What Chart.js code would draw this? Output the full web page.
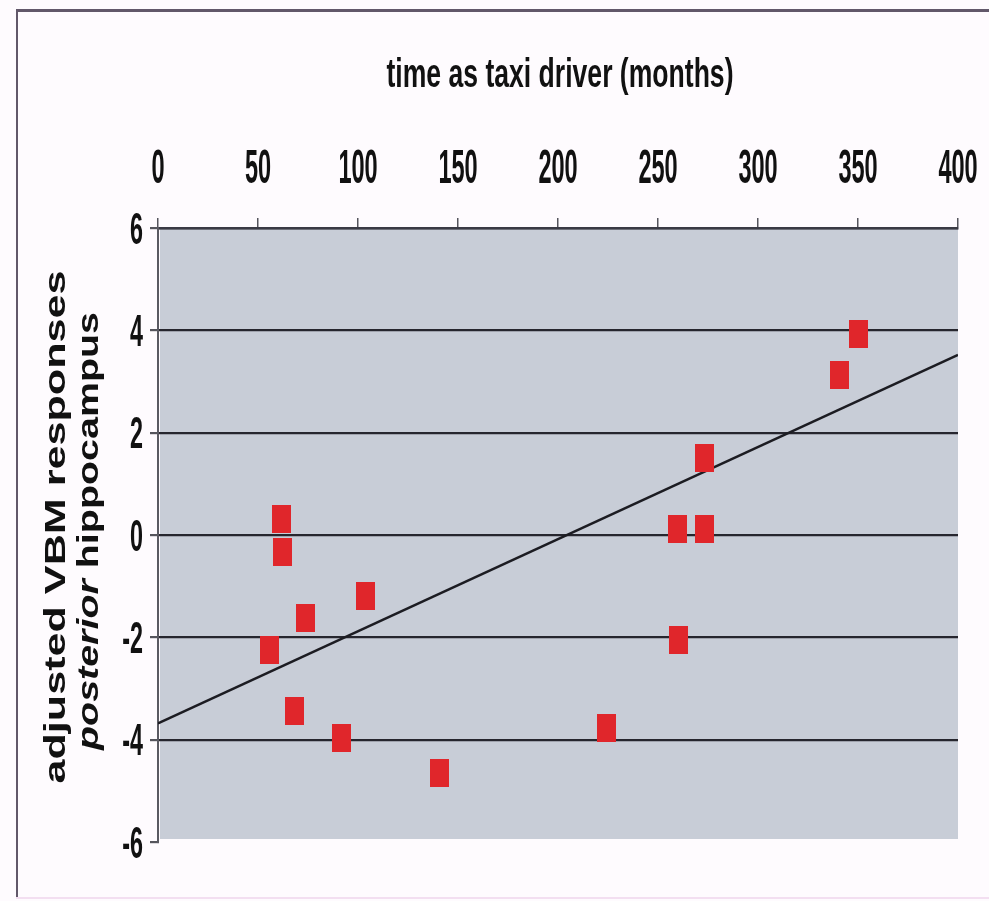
<!DOCTYPE html>
<html>
<head>
<meta charset="utf-8">
<script src="https://cdn.jsdelivr.net/npm/chart.js@4.4.1/dist/chart.umd.min.js"></script>
<style>
  html, body { margin: 0; padding: 0; background: #fefbfe; }
  #wrap { width: 989px; height: 901px; position: relative; }
</style>
</head>
<body>
<div id="wrap"><canvas id="c"></canvas></div>
<script>
// ---- data ----
const months = [55.5, 61.5, 62, 73.5, 68, 91.5, 103.5, 140.5, 224, 259.5, 273, 273, 260, 340.5, 350];
const vbm    = [-2.25, 0.32, -0.34, -1.63, -3.43, -3.97, -1.2, -4.65, -3.78, 0.11, 0.11, 1.5, -2.05, 3.12, 3.92];
const fitX = [0, 400];
const fitY = [-3.68, 3.52];
const xTicks = [0, 50, 100, 150, 200, 250, 300, 350, 400];
const yTicks = [6, 4, 2, 0, -2, -4, -6];
const xTitle = 'time as taxi driver (months)';
const yTitle1 = 'adjusted VBM responses';
const yTitle2a = 'posterior';
const yTitle2b = ' hippocampus';

// red rectangular marker
const marker = document.createElement('canvas');
marker.width = 19; marker.height = 28;
(function(){ const m = marker.getContext('2d'); m.fillStyle = '#e0262b'; m.fillRect(0,0,19,28); })();

const FONT = '"Liberation Sans", Arial, Helvetica, sans-serif';

function scaledText(ctx, text, x, y, font, sx, align) {
  ctx.save();
  ctx.font = font;
  ctx.textBaseline = 'alphabetic';
  ctx.textAlign = align;
  ctx.translate(x, y);
  ctx.scale(sx, 1);
  ctx.fillText(text, 0, 0);
  ctx.restore();
}

const decor = {
  id: 'decor',
  beforeDraw(chart) {
    const ctx = chart.ctx, a = chart.chartArea;
    ctx.save();
    ctx.fillStyle = '#fefbfe';
    ctx.fillRect(0, 0, chart.width, chart.height);
    // frame
    ctx.fillStyle = '#62586a';
    ctx.fillRect(17, 9, chart.width - 17, 3);
    ctx.fillRect(16, 9, 2, 888);
    ctx.fillStyle = '#f3dff1';
    ctx.fillRect(16, 897, chart.width - 16, 2);
    // plot background
    ctx.fillStyle = '#c8cdd7';
    ctx.fillRect(a.left + 2, a.top, a.right - a.left - 2, a.bottom - a.top - 3);
    ctx.restore();
  },
  afterDraw(chart) {
    const ctx = chart.ctx;
    const xs = chart.scales.x, ys = chart.scales.y;
    ctx.save();
    ctx.fillStyle = '#111111';
    // x title
    ctx.font = 'bold 40px ' + FONT;
    const tw = ctx.measureText(xTitle).width;
    scaledText(ctx, xTitle, 560, 87, 'bold 40px ' + FONT, 347 / tw, 'center');
    // x tick labels
    xTicks.forEach(v => {
      scaledText(ctx, String(v), xs.getPixelForValue(v), 183, 'bold 49px ' + FONT, 0.48, 'center');
    });
    // y tick labels
    yTicks.forEach(v => {
      scaledText(ctx, String(v), 143, ys.getPixelForValue(v) + 15.5, 'bold 44px ' + FONT, 0.53, 'right');
    });
    // y title line 1
    ctx.save();
    ctx.font = 'bold 42px ' + FONT;
    const w1 = ctx.measureText(yTitle1).width;
    ctx.translate(65, 527);
    ctx.rotate(-Math.PI / 2);
    ctx.scale(513 / w1, 0.72);
    ctx.textAlign = 'center';
    ctx.textBaseline = 'alphabetic';
    ctx.fillText(yTitle1, 0, 0);
    ctx.restore();
    // y title line 2 (mixed style)
    ctx.save();
    const fA = 'italic bold 42px ' + FONT, fB = 'bold 42px ' + FONT;
    ctx.font = fA; const wa = ctx.measureText(yTitle2a).width;
    ctx.font = fB; const wb = ctx.measureText(yTitle2b).width;
    const tot = wa + wb;
    ctx.translate(98, 531);
    ctx.rotate(-Math.PI / 2);
    ctx.scale(438 / tot, 0.72);
    ctx.textAlign = 'left';
    ctx.textBaseline = 'alphabetic';
    ctx.font = fA; ctx.fillText(yTitle2a, -tot / 2, 0);
    ctx.font = fB; ctx.fillText(yTitle2b, -tot / 2 + wa, 0);
    ctx.restore();
    ctx.restore();
  }
};

new Chart(document.getElementById('c'), {
  type: 'scatter',
  data: {
    datasets: [
      {
        label: 'drivers',
        data: months.map((m, i) => ({ x: m, y: vbm[i] })),
        pointStyle: marker,
        pointRadius: 10,
        order: 1
      },
      {
        type: 'line',
        label: 'fit',
        data: fitX.map((m, i) => ({ x: m, y: fitY[i] })),
        borderColor: '#1c1c22',
        borderWidth: 2.5,
        pointRadius: 0,
        fill: false,
        order: 2
      }
    ]
  },
  options: {
    responsive: true,
    maintainAspectRatio: false,
    animation: false,
    events: [],
    layout: { padding: { left: 148, top: 218, right: 31, bottom: 59 } },
    plugins: { legend: { display: false }, tooltip: { enabled: false } },
    scales: {
      x: {
        type: 'linear',
        position: 'top',
        min: 0, max: 400,
        ticks: { stepSize: 50, display: false },
        grid: { drawOnChartArea: false, drawTicks: true, tickLength: 10, color: '#55555c', lineWidth: 1.5 },
        border: { display: true, color: '#3a3a44', width: 2.5 },
        afterFit(s) { s.height = 10; }
      },
      y: {
        type: 'linear',
        min: -6, max: 6,
        ticks: { stepSize: 2, display: false },
        grid: {
          drawTicks: true, tickLength: 8,
          color: ctx => (ctx.tick && ctx.tick.value === -6) ? 'rgba(0,0,0,0)' : '#26262e',
          tickColor: '#55555c',
          lineWidth: 2.2
        },
        border: { display: true, color: '#5a5a62', width: 2 },
        afterFit(s) { s.width = 10; }
      }
    }
  },
  plugins: [decor]
});
</script>
</body>
</html>
